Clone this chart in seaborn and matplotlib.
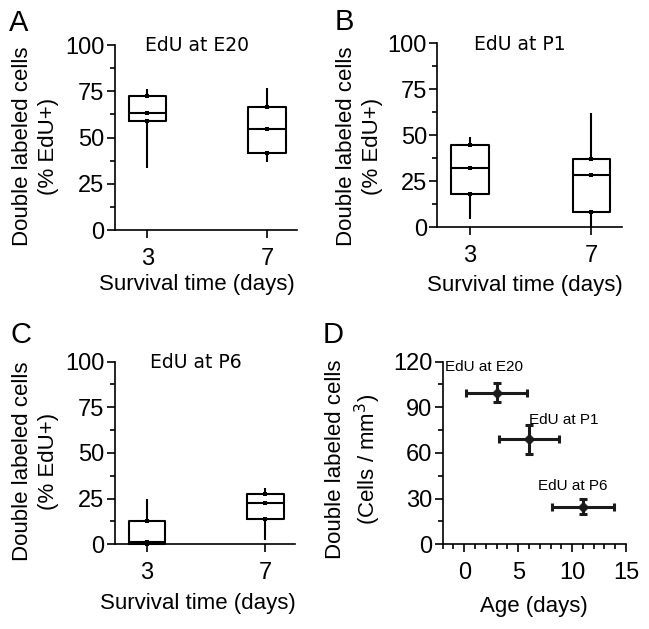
import numpy as np
import pandas as pd
import matplotlib
matplotlib.use("Agg")
import matplotlib.pyplot as plt
from matplotlib.ticker import MultipleLocator
import seaborn as sns

# box stats per group: [min, q1, median, q3, max]
survival_days = ["3", "7"]
e20_stats = [[33.3, 58.9, 63.4, 72.6, 76.2], [36.9, 41.8, 54.4, 66.3, 76.6]]
p1_stats = [[4.3, 17.9, 32.4, 44.9, 49.2], [0.0, 8.2, 28.3, 37.4, 62.0]]
p6_stats = [[0.0, 0.2, 1.1, 12.9, 24.8], [2.4, 13.9, 22.4, 27.5, 30.6]]
box_titles = ["EdU at E20", "EdU at P1", "EdU at P6"]

# panel D
inject_labels = ["EdU at E20", "EdU at P1", "EdU at P6"]
inject_age = [3.0, 6.0, 11.0]
age_err = [2.8, 2.8, 2.85]
cell_density = [99.5, 69.0, 24.8]
density_err = [6.2, 9.5, 5.0]

sns.set_style("ticks")
plt.rcParams["font.family"] = ["Liberation Sans", "DejaVu Sans"]
for key in ["text.color", "axes.labelcolor", "xtick.color", "ytick.color",
            "axes.edgecolor"]:
    plt.rcParams[key] = "black"

label_font = dict(family=["Liberation Sans"], size=16)
title_font = dict(family=["DejaVu Sans"], size=13.5)

fig = plt.figure(figsize=(6.49, 6.29), dpi=100)

rects = [
    [0.1772, 0.6343, 0.2804, 0.2941],
    [0.6738, 0.6386, 0.2840, 0.2925],
    [0.1772, 0.1347, 0.2773, 0.2903],
]
letters = ["A", "B", "C"]
letter_pos = [(0.014, 0.963), (0.516, 0.965), (0.016, 0.467)]
xlab_pos = [(0.448, -0.297), (0.476, -0.314), (0.458, -0.327)]
ylab_pos = [(-0.437, 0.454), (-0.422, 0.439), (-0.442, 0.456)]


def style_axis(ax, xl, yl):
    ax.tick_params(axis="both", which="major", length=6, width=1.2,
                   labelsize=17)
    ax.tick_params(axis="y", which="major", pad=1.5)
    ax.tick_params(axis="x", which="major", pad=7)
    ax.tick_params(axis="both", which="minor", length=3.5, width=1.2)
    for s in ["left", "bottom"]:
        ax.spines[s].set_linewidth(1.2)
    sns.despine(ax=ax)
    ax.xaxis.set_label_coords(*xl)
    ax.yaxis.set_label_coords(*yl)
    ax.xaxis.label.set_va("center")
    ax.yaxis.label.set_va("center")


for stats, title, rect, letter, lp, xl, yl in zip(
        [e20_stats, p1_stats, p6_stats], box_titles, rects, letters,
        letter_pos, xlab_pos, ylab_pos):
    ax = fig.add_axes(rect)
    df = pd.DataFrame({
        "day": np.repeat(survival_days, 5),
        "value": np.concatenate(stats),
    })
    sns.boxplot(data=df, x="day", y="value", whis=np.inf, width=0.31,
                fill=False, color="black", linewidth=1.5, showcaps=False, ax=ax)
    dots = pd.DataFrame({
        "day": np.repeat(survival_days, 3),
        "value": np.concatenate([s[1:4] for s in stats]),
    })
    sns.stripplot(data=dots, x="day", y="value", jitter=False, color="black",
                  size=2.2, marker="s", ax=ax)
    ax.set_xlim(-0.27, 1.25)
    ax.set_ylim(0, 100)
    ax.set_yticks([0, 25, 50, 75, 100])
    ax.yaxis.set_minor_locator(MultipleLocator(12.5))
    ax.tick_params(axis="x", which="minor", bottom=False)
    ax.set_xlabel("Survival time (days)", **label_font)
    ax.set_ylabel("Double labeled cells\n(% EdU+)", linespacing=1.3,
                  **label_font)
    style_axis(ax, xl, yl)
    ax.text(0.45, 0.995, title, transform=ax.transAxes, ha="center",
            va="center", **title_font)
    fig.text(lp[0], lp[1], letter, fontsize=21, ha="left", va="center")
    for c in ax.collections + ax.lines:
        c.set_clip_on(False)

# panel D
axd = fig.add_axes([0.6821, 0.1347, 0.2825, 0.2903])
axd.errorbar(inject_age, cell_density, xerr=age_err, yerr=density_err,
             fmt="none", ecolor="#1a1a1a", elinewidth=2.2, capsize=3,
             capthick=2.2, zorder=2)
sns.scatterplot(x=inject_age, y=cell_density, marker="D", s=30,
                color="#1a1a1a", edgecolor="#1a1a1a", ax=axd, zorder=3)
label_xy = [(-1.8, 116.5), (6.0, 81.5), (6.8, 38.0)]
for lab, (tx, ty) in zip(inject_labels, label_xy):
    axd.text(tx, ty, lab, fontsize=11, ha="left", va="center")
axd.set_xlim(-2, 15)
axd.set_ylim(0, 120)
axd.set_xticks([0, 5, 10, 15])
axd.set_yticks([0, 30, 60, 90, 120])
axd.xaxis.set_minor_locator(MultipleLocator(1))
axd.yaxis.set_minor_locator(MultipleLocator(15))
axd.set_xlabel("Age (days)", **label_font)
axd.set_ylabel("Double labeled cells\n(Cells / mm$^{3}$)", linespacing=1.3,
               **label_font)
style_axis(axd, (0.495, -0.343), (-0.484, 0.467))
fig.text(0.497, 0.467, "D", fontsize=21, ha="left", va="center")

fig.savefig("out.png", dpi=100)
